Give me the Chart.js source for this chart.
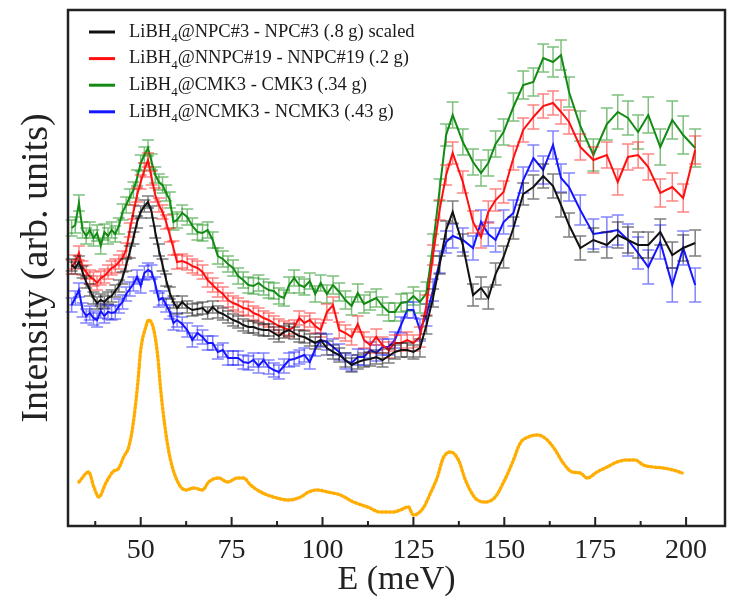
<!DOCTYPE html>
<html>
<head>
<meta charset="utf-8">
<script src="https://cdn.jsdelivr.net/npm/chart.js@4.4.0/dist/chart.umd.min.js"></script>
<style>
    html, body { margin: 0; padding: 0; background: #fff; }
    #wrap { width: 730px; height: 606px; }
</style>
</head>
<body>
<div id="wrap"><canvas id="spectraChart" width="730" height="606"></canvas></div>
<script>
// Energy grid shared by the four difference spectra (meV)
const energy = [
    31, 32, 33, 34, 35, 36, 37, 38, 39, 40, 41, 42, 43, 44, 45, 46, 47, 48, 49, 50,
    51, 52, 53, 54, 55, 56, 57, 58, 59, 60,
    61.4, 62.8, 64.2, 65.6, 67, 68.4, 69.8, 71.2, 72.6, 74, 75.4, 76.8, 78.2, 79.6,
    81, 82.4, 83.8, 85.2, 86.6, 88, 89.4, 90.8, 92.2, 93.6, 95, 96.5, 98, 99.5,
    101.2, 102.9, 104.6, 106.3, 108, 109.7, 111.4, 113.1, 114.8, 116.5, 118.2, 119.9,
    121.6, 123.3, 125,
    126.8, 128.6, 130.4, 132.2, 134,
    135.8, 138.6, 141.4, 143.6, 145.6, 147.6, 149.8, 152.5, 155.2, 158, 160.7, 163.4,
    165.6, 167.8, 170.9, 174.5, 178.2, 181.2, 184, 186.8, 189.6, 192.9, 196.2, 199.2, 202.5
];

const npcValues = [
    261, 258, 264, 254, 244, 236, 228, 223, 226, 224, 228, 230, 235, 240, 248, 261, 274, 288, 304, 314,
    320, 324, 314, 294, 276, 261, 246, 233, 224, 218,
    224, 219, 216, 217, 218, 213, 219, 214, 212, 209, 206, 204, 201, 199,
    199, 197, 196, 196, 193, 190, 194, 196, 193, 190, 189, 186, 183, 186,
    178, 174, 171, 166, 161, 164, 166, 167, 169, 166, 170, 174,
    176, 176, 174,
    178, 201, 228, 261, 296,
    314, 281, 231, 238, 228, 252, 269, 298, 332, 339, 350, 340,
    321, 301, 278, 286, 281, 291, 286, 281, 281, 294, 271, 278, 283
];
const npcErrors = [
    6, 6, 6, 6, 6, 6, 6, 6, 6, 6, 6, 6, 6, 6, 6, 6, 6, 6, 6, 6, 6, 6, 6, 6, 6, 6, 6, 6, 6, 6,
    6, 6, 6, 6, 6, 6, 6, 6, 6, 6, 6, 6, 6, 6, 6, 6, 6, 6, 6, 6, 6, 6, 6, 6, 6, 6, 6, 6,
    7, 7, 7, 7, 7, 7, 7, 7, 7, 7, 7, 7, 7, 7, 7,
    9, 9, 9, 9, 9,
    11, 11, 11, 11, 11, 11, 11, 11, 11, 12, 12, 12, 12, 12, 12, 12, 13, 13, 13, 13, 13, 13, 13, 13, 13
];

const nnpcValues = [
    259, 264, 273, 258, 254, 249, 247, 243, 248, 250, 254, 258, 260, 264, 268, 276, 296, 314, 331, 344,
    356, 366, 348, 331, 321, 314, 304, 291, 278, 264,
    265, 263, 260, 258, 254, 246, 241, 236, 232, 226, 223, 221, 218, 217,
    213, 211, 208, 206, 203, 200, 198, 196, 199, 208, 203, 206, 200, 196,
    214, 221, 196, 193, 189, 202, 186, 181, 189, 181, 176, 183,
    183, 186, 183,
    189, 221, 271, 316, 351,
    373, 344, 304, 289, 314, 326, 334, 368, 396, 409, 420, 423,
    414, 404, 379, 366, 371, 344, 369, 371, 359, 333, 339, 328, 376
];
const nnpcErrors = [
    7, 7, 7, 7, 7, 7, 7, 7, 7, 7, 7, 7, 7, 7, 7, 7, 7, 7, 7, 7, 7, 7, 7, 7, 7, 7, 7, 7, 7, 7,
    7, 7, 7, 7, 7, 7, 7, 7, 7, 7, 7, 7, 7, 7, 7, 7, 7, 7, 7, 7, 7, 7, 7, 7, 7, 7, 7, 7,
    8, 8, 8, 8, 8, 8, 8, 8, 8, 8, 8, 8, 8, 8, 8,
    10, 10, 10, 10, 10,
    11, 11, 11, 11, 11, 11, 11, 12, 12, 12, 12, 12, 12, 12, 13, 13, 13, 13, 13, 13, 13, 14, 14, 14, 14
];

const cmkValues = [
    298, 301, 323, 296, 290, 296, 288, 293, 280, 294, 290, 296, 292, 300, 314, 321, 329, 336, 348, 363,
    371, 378, 364, 351, 344, 341, 333, 326, 304, 306,
    313, 309, 300, 294, 293, 296, 286, 270, 267, 262, 258, 250, 246, 241,
    240, 243, 239, 236, 235, 230, 228, 241, 248, 241, 239, 245, 232, 243,
    232, 241, 234, 226, 220, 233, 222, 225, 228, 220, 214, 214,
    223, 224, 230,
    224, 233, 281, 336, 391,
    411, 384, 364, 353, 363, 382, 394, 419, 441, 444, 468, 464,
    471, 434, 400, 371, 402, 414, 408, 394, 411, 379, 406, 391, 378
];
const cmkErrors = [
    8, 8, 8, 8, 8, 8, 8, 8, 8, 8, 8, 8, 8, 8, 8, 8, 8, 8, 8, 8, 8, 8, 8, 8, 8, 8, 8, 8, 8, 8,
    8, 8, 8, 8, 8, 8, 8, 8, 8, 8, 8, 8, 8, 8, 8, 8, 8, 8, 8, 8, 8, 8, 8, 8, 8, 8, 8, 8,
    9, 9, 9, 9, 9, 9, 9, 9, 9, 9, 9, 9, 9, 9, 9,
    11, 11, 11, 11, 11,
    13, 13, 13, 13, 13, 13, 13, 14, 14, 14, 14, 15, 15, 15, 15, 16, 16, 17, 17, 17, 18, 18, 19, 19, 19
];

const ncmkValues = [
    221, 228, 236, 216, 210, 213, 208, 206, 215, 210, 214, 213, 214, 220, 224, 232, 237, 242, 249, 240,
    253, 256, 254, 242, 226, 228, 221, 214, 203, 206,
    202, 196, 186, 193, 189, 183, 183, 174, 176, 168, 168, 168, 164, 163,
    166, 160, 166, 159, 156, 154, 160, 166, 167, 169, 171, 164, 177, 186,
    184, 179, 174, 165, 163, 169, 169, 176, 173, 179, 179, 186,
    201, 216, 216,
    196, 211, 236, 264, 284,
    290, 286, 278, 304, 292, 286, 304, 313, 346, 368, 356, 381,
    348, 339, 316, 292, 294, 296, 286, 273, 259, 284, 241, 278, 241
];
const ncmkErrors = [
    7, 7, 7, 7, 7, 7, 7, 7, 7, 7, 7, 7, 7, 7, 7, 7, 7, 7, 7, 7, 7, 7, 7, 7, 7, 7, 7, 7, 7, 7,
    7, 7, 7, 7, 7, 7, 7, 7, 7, 7, 7, 7, 7, 7, 7, 7, 7, 7, 7, 7, 7, 7, 7, 7, 7, 7, 7, 7,
    8, 8, 8, 8, 8, 8, 8, 8, 8, 8, 8, 8, 8, 8, 8,
    11, 11, 11, 11, 11,
    12, 12, 12, 12, 12, 12, 12, 13, 13, 13, 14, 14, 14, 14, 15, 15, 15, 15, 16, 16, 17, 17, 17, 17, 17
];

// Bulk LiBH4 reference spectrum (orange dotted)
const bulkEnergy = [
    33.0, 35.7, 37.1, 38.5, 40.4, 42.3, 44.0, 45.3, 46.7, 47.8, 49.2, 50.0, 51.4, 52.2, 53.6,
    54.7, 55.5, 56.9, 58.2, 60.2, 62.4, 64.6, 67.0, 68.7, 71.4, 73.9, 76.6, 78.3, 80.2, 83.0,
    86.5, 90.7, 94.0, 96.2, 98.6, 101.4, 104.9, 108.5, 112.4, 115.9, 119.5, 121.4, 123.6, 125.0,
    127.7, 129.7, 131.6, 133.2, 135.2, 137.4, 139.3, 142.0, 144.8, 147.5, 149.7, 152.2, 154.4,
    156.6, 159.3, 161.8, 164.0, 166.2, 168.7, 170.9, 172.8, 175.5, 178.3, 181.0, 183.8, 186.0,
    188.2, 190.9, 193.7, 196.4, 198.9
];
const bulkValues = [
    44, 54, 39, 29, 43, 54, 58, 69, 79, 99, 143, 176, 199, 206, 196,
    169, 136, 93, 66, 44, 36, 38, 36, 44, 48, 44, 48, 48, 41, 34,
    29, 26, 29, 34, 36, 34, 31, 24, 19, 14, 14, 16, 19, 11,
    18, 33, 49, 68, 74, 66, 46, 28, 24, 29, 43, 63, 83,
    89, 91, 86, 76, 63, 54, 53, 48, 54, 59, 64, 66, 66,
    61, 59, 58, 56, 53
];

const xTicks = [50, 75, 100, 125, 150, 175, 200];
const xMinorTicks = [37.5, 62.5, 87.5, 112.5, 137.5, 162.5, 187.5];

const seriesLabels = [
    ['LiBH', '4', '@NPC#3 - NPC#3 (.8 g) scaled'],
    ['LiBH', '4', '@NNPC#19 - NNPC#19 (.2 g)'],
    ['LiBH', '4', '@CMK3 - CMK3 (.34 g)'],
    ['LiBH', '4', '@NCMK3 - NCMK3 (.43 g)']
];

const SERIF = "'Liberation Serif', 'Times New Roman', serif";

function toPoints(xs, ys) {
    return xs.map((x, i) => ({ x: x, y: ys[i] }));
}

function spectrum(label, values, errors, color, errColor) {
    return {
        label: label,
        data: toPoints(energy, values),
        errors: errors,
        errColor: errColor,
        borderColor: color,
        borderWidth: 2,
        pointRadius: 0,
        tension: 0,
        fill: false
    };
}

// Error bars with caps, drawn just before each dataset's line
const errorBarPlugin = {
    id: 'errorBars',
    beforeDatasetDraw(chart, args) {
        const ds = chart.data.datasets[args.index];
        if (!ds.errors) return;
        const ctx = chart.ctx;
        const xs = chart.scales.x;
        const ys = chart.scales.y;
        const cap = 6;
        ctx.save();
        ctx.strokeStyle = ds.errColor;
        ctx.lineWidth = 1.5;
        ds.data.forEach((p, i) => {
            const px = xs.getPixelForValue(p.x);
            const top = ys.getPixelForValue(p.y + ds.errors[i]);
            const bot = ys.getPixelForValue(p.y - ds.errors[i]);
            ctx.beginPath();
            ctx.moveTo(px, top);
            ctx.lineTo(px, bot);
            ctx.moveTo(px - cap, top);
            ctx.lineTo(px + cap, top);
            ctx.moveTo(px - cap, bot);
            ctx.lineTo(px + cap, bot);
            ctx.stroke();
        });
        ctx.restore();
    }
};

// Box frame with inward ticks
const framePlugin = {
    id: 'frame',
    afterDraw(chart) {
        const { ctx, chartArea } = chart;
        const xs = chart.scales.x;
        ctx.save();
        ctx.strokeStyle = '#222';
        ctx.lineWidth = 2.5;
        ctx.strokeRect(chartArea.left, chartArea.top, chartArea.right - chartArea.left, chartArea.bottom - chartArea.top);
        ctx.lineWidth = 2;
        ctx.beginPath();
        xTicks.forEach(v => {
            const px = xs.getPixelForValue(v);
            ctx.moveTo(px, chartArea.bottom);
            ctx.lineTo(px, chartArea.bottom - 9);
        });
        xMinorTicks.forEach(v => {
            const px = xs.getPixelForValue(v);
            ctx.moveTo(px, chartArea.bottom);
            ctx.lineTo(px, chartArea.bottom - 5);
        });
        ctx.stroke();
        ctx.restore();
    }
};

// Legend with subscripted formula
const legendPlugin = {
    id: 'subLegend',
    afterDraw(chart) {
        const ctx = chart.ctx;
        const x0 = 89, x1 = 115, tx = 129, y0 = 32, gap = 26.6;
        ctx.save();
        chart.data.datasets.slice(0, 4).forEach((ds, i) => {
            const y = y0 + i * gap;
            ctx.strokeStyle = ds.borderColor;
            ctx.lineWidth = 3;
            ctx.beginPath();
            ctx.moveTo(x0, y);
            ctx.lineTo(x1, y);
            ctx.stroke();

            const parts = seriesLabels[i];
            ctx.fillStyle = '#1a1a1a';
            ctx.textBaseline = 'middle';
            ctx.font = '18.5px ' + SERIF;
            let x = tx;
            ctx.fillText(parts[0], x, y);
            x += ctx.measureText(parts[0]).width;
            ctx.font = '13px ' + SERIF;
            ctx.fillText(parts[1], x, y + 7);
            x += ctx.measureText(parts[1]).width;
            ctx.font = '18.5px ' + SERIF;
            ctx.fillText(parts[2], x, y);
        });
        ctx.restore();
    }
};

const ctx = document.getElementById('spectraChart').getContext('2d');
const spectraChart = new Chart(ctx, {
    type: 'line',
    data: {
        datasets: [
            spectrum(seriesLabels[0].join(''), npcValues, npcErrors, '#111111', 'rgba(20,20,20,0.55)'),
            spectrum(seriesLabels[1].join(''), nnpcValues, nnpcErrors, '#ff1010', 'rgba(255,30,30,0.55)'),
            spectrum(seriesLabels[2].join(''), cmkValues, cmkErrors, '#138a13', 'rgba(20,140,20,0.55)'),
            spectrum(seriesLabels[3].join(''), ncmkValues, ncmkErrors, '#1515ff', 'rgba(30,30,255,0.55)'),
            {
                label: 'LiBH4 bulk',
                data: toPoints(bulkEnergy, bulkValues),
                borderColor: '#ffad00',
                borderWidth: 3.4,
                borderDash: [1.6, 2.4],
                borderCapStyle: 'round',
                pointRadius: 0,
                cubicInterpolationMode: 'monotone',
                fill: false
            }
        ]
    },
    options: {
        responsive: false,
        animation: false,
        layout: { padding: { top: 10, right: 5, left: 0, bottom: 0 } },
        plugins: {
            legend: { display: false },
            tooltip: { enabled: false }
        },
        scales: {
            x: {
                type: 'linear',
                min: 30,
                max: 210.7,
                grid: { display: false, drawTicks: false },
                border: { display: false },
                afterBuildTicks: scale => { scale.ticks = xTicks.map(v => ({ value: v })); },
                afterFit: scale => { scale.height = 80; },
                ticks: {
                    font: { family: SERIF, size: 28 },
                    color: '#222',
                    padding: 8,
                    maxRotation: 0,
                    autoSkip: false
                },
                title: {
                    display: true,
                    text: 'E (meV)',
                    font: { family: SERIF, size: 34, lineHeight: 1 },
                    color: '#222',
                    padding: { top: 0, bottom: 9 }
                }
            },
            y: {
                min: 0,
                max: 516,
                grid: { display: false, drawTicks: false },
                border: { display: false },
                ticks: { display: false },
                afterFit: scale => { scale.width = 68; },
                title: {
                    display: true,
                    text: 'Intensity (arb. units)',
                    font: { family: SERIF, size: 38, lineHeight: 1 },
                    color: '#222',
                    padding: { top: 18, bottom: 0 }
                }
            }
        }
    },
    plugins: [errorBarPlugin, framePlugin, legendPlugin]
});
</script>
</body>
</html>
